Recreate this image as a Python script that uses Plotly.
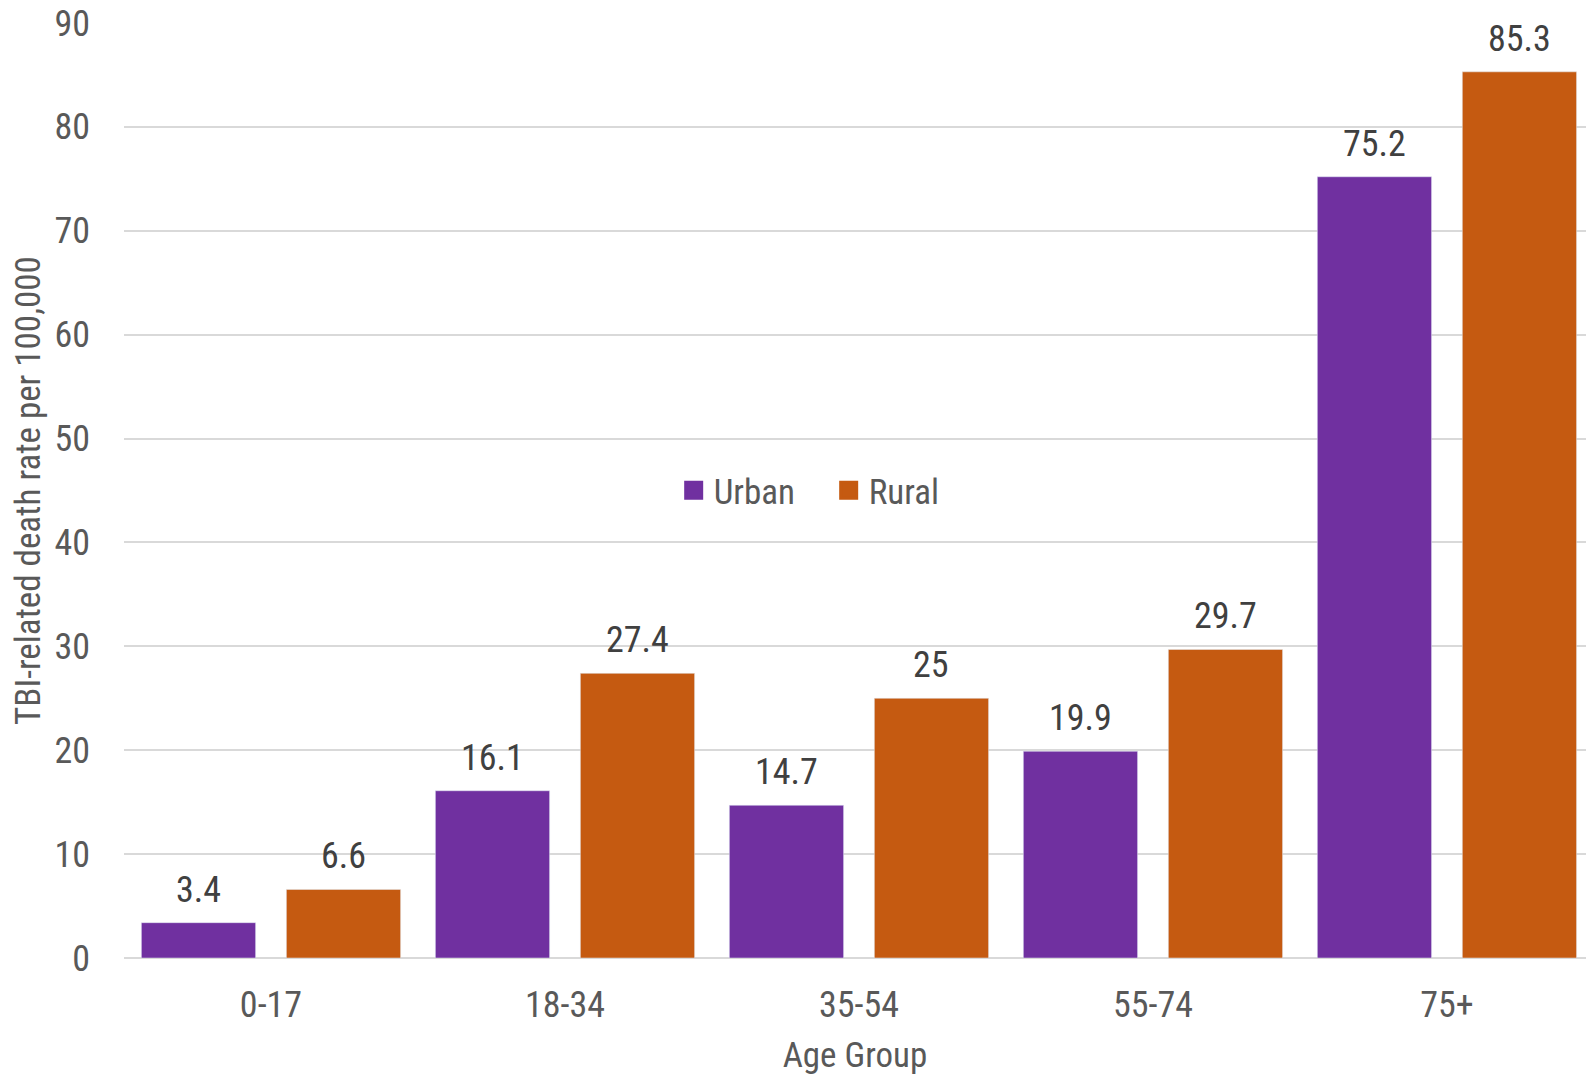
import plotly.graph_objects as go

age_groups = ["0-17", "18-34", "35-54", "55-74", "75+"]
urban = [3.4, 16.1, 14.7, 19.9, 75.2]
rural = [6.6, 27.4, 25, 29.7, 85.3]
y_ticks = [0, 10, 20, 30, 40, 50, 60, 70, 80, 90]

PURPLE = "#7030A0"
ORANGE = "#C55A11"
FONT = "Liberation Sans Narrow, Arial Narrow, Roboto Condensed, DejaVu Sans Condensed, Liberation Sans, sans-serif"

W, H = 1586, 1076
ML, MR, MT, MB = 124, 0, 23, 118
X_RANGE = [-0.5, 4.473]
BARGAP = 0.0136
BARGROUPGAP = 0.212

fig = go.Figure()
fig.add_trace(go.Bar(x=age_groups, y=urban, name="Urban", marker_color=PURPLE, showlegend=False))
fig.add_trace(go.Bar(x=age_groups, y=rural, name="Rural", marker_color=ORANGE, showlegend=False))
for nm, col in [("Urban", PURPLE), ("Rural", ORANGE)]:
    fig.add_trace(go.Scatter(x=[None], y=[None], mode="markers", name=nm,
                             marker=dict(symbol="square", size=16, color=col,
                                         line=dict(color=col, width=3))))

# value labels above bars (offset of each bar within its group derived from the bar layout)
cat_px = (W - ML - MR) / (X_RANGE[1] - X_RANGE[0])
slot_px = cat_px * (1 - BARGAP) / 2
for series, sgn in [(urban, -1), (rural, 1)]:
    for cat, v in zip(age_groups, series):
        fig.add_annotation(x=cat, y=v, text=str(v), showarrow=False,
                           xanchor="center", yanchor="bottom",
                           xshift=sgn * slot_px / 2, yshift=10,
                           font=dict(size=36, color="#404040", family=FONT))

fig.update_layout(
    width=W, height=H,
    margin=dict(l=ML, r=MR, t=MT, b=MB),
    paper_bgcolor="white", plot_bgcolor="white",
    font=dict(family=FONT, color="#595959"),
    barmode="group", bargap=BARGAP, bargroupgap=BARGROUPGAP,
    legend=dict(orientation="h", x=0.482, y=0.5, xanchor="center", yanchor="middle",
                font=dict(size=35, color="#595959"), itemsizing="trace",
                bgcolor="rgba(0,0,0,0)", entrywidth=110),
    xaxis=dict(range=X_RANGE, showgrid=False, showline=False, ticks="",
               tickfont=dict(size=36, color="#595959"), ticklabelstandoff=22,
               title=dict(text="Age Group", font=dict(size=35, color="#595959"), standoff=18)),
    yaxis=dict(range=[0, 90], tickvals=y_ticks, showgrid=True, gridcolor="#D9D9D9", gridwidth=1.5,
               zeroline=True, zerolinecolor="#D9D9D9", zerolinewidth=2, showline=False, ticks="",
               tickfont=dict(size=36, color="#595959"), ticklabelstandoff=33,
               title=dict(text="TBI-related death rate per 100,000",
                          font=dict(size=35, color="#595959"), standoff=3)),
)

fig.write_html("out.html")
